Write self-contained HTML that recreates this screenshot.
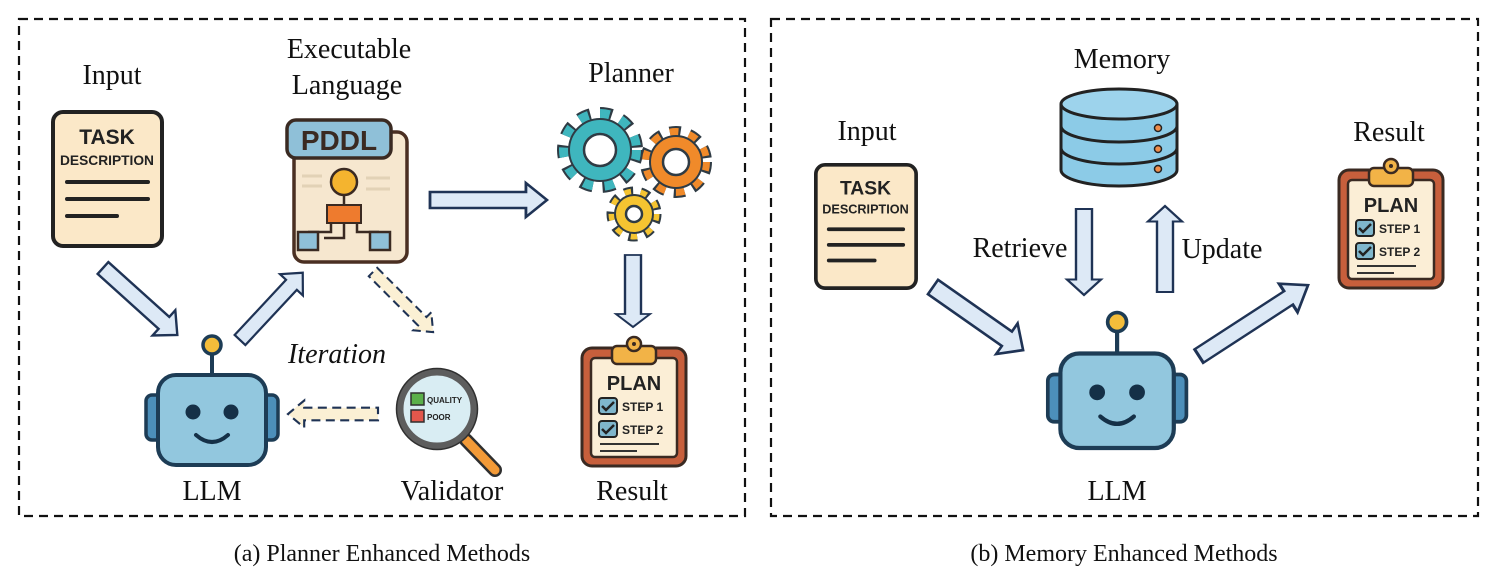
<!DOCTYPE html>
<html><head><meta charset="utf-8"><style>
html,body{margin:0;padding:0;background:#fff;}
svg{display:block;}
text{font-family:"Liberation Serif",serif;fill:#111;}
.s{font-family:"Liberation Sans",sans-serif;font-weight:bold;fill:#222;}
</style></head><body>
<svg width="1494" height="582" viewBox="0 0 1494 582" xmlns="http://www.w3.org/2000/svg">
<defs>
  <g id="doc">
    <rect x="2" y="2" width="109" height="134" rx="10" fill="#fbe8c8" stroke="#222" stroke-width="4"/>
    <text x="56" y="34" text-anchor="middle" class="s" font-size="21">TASK</text>
    <text x="56" y="55" text-anchor="middle" class="s" font-size="14" textLength="94" lengthAdjust="spacingAndGlyphs">DESCRIPTION</text>
    <line x1="16" y1="72" x2="97" y2="72" stroke="#222" stroke-width="4" stroke-linecap="round"/>
    <line x1="16" y1="89" x2="97" y2="89" stroke="#222" stroke-width="4" stroke-linecap="round"/>
    <line x1="16" y1="106" x2="66" y2="106" stroke="#222" stroke-width="4" stroke-linecap="round"/>
  </g>
  <g id="robot">
    <line x1="62" y1="0" x2="62" y2="30" stroke="#1d3c55" stroke-width="4"/>
    <circle cx="62" cy="0" r="9" fill="#f4bd3a" stroke="#1d3c55" stroke-width="3.5"/>
    <rect x="-4" y="50" width="18" height="45" rx="6" fill="#4c8fba" stroke="#1d3c55" stroke-width="3.5"/>
    <rect x="110" y="50" width="18" height="45" rx="6" fill="#4c8fba" stroke="#1d3c55" stroke-width="3.5"/>
    <rect x="8" y="30" width="108" height="90" rx="18" fill="#92c7de" stroke="#1d3c55" stroke-width="4"/>
    <circle cx="43" cy="67" r="7.5" fill="#153047"/>
    <circle cx="81" cy="67" r="7.5" fill="#153047"/>
    <path d="M46 90 Q62 104 78 90" fill="none" stroke="#153047" stroke-width="4" stroke-linecap="round"/>
  </g>
  <g id="clip">
    <rect x="2" y="8" width="104" height="118" rx="10" fill="#c75f3c" stroke="#3a2a22" stroke-width="3"/>
    <rect x="11" y="18" width="86" height="99" rx="4" fill="#fbeed6" stroke="#3a2a22" stroke-width="2.5"/>
    <rect x="32" y="6" width="44" height="18" rx="5" fill="#f2b347" stroke="#3a2a22" stroke-width="2.5"/>
    <circle cx="54" cy="4" r="7" fill="#f2b347" stroke="#3a2a22" stroke-width="2.5"/>
    <circle cx="54" cy="4" r="2" fill="#3a2a22"/>
    <text x="54" y="50" text-anchor="middle" class="s" font-size="20">PLAN</text>
    <rect x="19" y="58" width="18" height="16" rx="3" fill="#7fb6cc" stroke="#222" stroke-width="2"/>
    <path d="M22 66 l4 4 l8 -8" fill="none" stroke="#222" stroke-width="2.5"/>
    <text x="42" y="71" class="s" font-size="12">STEP 1</text>
    <rect x="19" y="81" width="18" height="16" rx="3" fill="#7fb6cc" stroke="#222" stroke-width="2"/>
    <path d="M22 89 l4 4 l8 -8" fill="none" stroke="#222" stroke-width="2.5"/>
    <text x="42" y="94" class="s" font-size="12">STEP 2</text>
    <line x1="20" y1="104" x2="79" y2="104" stroke="#333" stroke-width="2"/>
    <line x1="20" y1="111" x2="57" y2="111" stroke="#333" stroke-width="2"/>
  </g>
  <g id="barr"><polygon points="0,-8 82,-8 82,-17 100,0 82,17 82,8 0,8" fill="#dde9f6" stroke="#1f3355" stroke-width="2.4" stroke-linejoin="miter"/></g>
  <g id="darr"><polygon points="0,-7 82,-7 82,-15 100,0 82,15 82,7 0,7" fill="#fbf0d4" stroke="#1f3355" stroke-width="2.4" stroke-dasharray="10,6"/></g>
</defs>

<rect x="19" y="19" width="726" height="497" fill="none" stroke="#111" stroke-width="2.2" stroke-dasharray="9,6"/>
<rect x="771" y="19" width="707" height="497" fill="none" stroke="#111" stroke-width="2.2" stroke-dasharray="9,6"/>

<!-- LEFT PANEL -->
<text x="112" y="84" text-anchor="middle" font-size="28">Input</text>
<use href="#doc" x="51" y="110"/>
<text x="349" y="58" text-anchor="middle" font-size="28">Executable</text>
<text x="347" y="94" text-anchor="middle" font-size="28">Language</text>
<g transform="translate(284,120)">
  <rect x="10" y="12" width="113" height="130" rx="10" fill="#f6e7cf" stroke="#4a2f22" stroke-width="3.5"/>
  <rect x="3" y="0" width="104" height="38" rx="9" fill="#8fc0d8" stroke="#3a2a22" stroke-width="3.5"/>
  <text x="55" y="30" text-anchor="middle" class="s" font-size="28" style="fill:#3a2a22">PDDL</text>
  <line x1="18" y1="56" x2="38" y2="56" stroke="#e2d2b6" stroke-width="3"/>
  <line x1="18" y1="66" x2="38" y2="66" stroke="#e2d2b6" stroke-width="3"/>
  <line x1="82" y1="58" x2="106" y2="58" stroke="#e2d2b6" stroke-width="3"/>
  <line x1="82" y1="69" x2="106" y2="69" stroke="#e2d2b6" stroke-width="3"/>
  <circle cx="60" cy="62" r="13" fill="#f4b42f" stroke="#3a2a22" stroke-width="2.5"/>
  <line x1="60" y1="75" x2="60" y2="85" stroke="#3a2a22" stroke-width="2.5"/>
  <rect x="43" y="85" width="34" height="18" fill="#ee7b2e" stroke="#3a2a22" stroke-width="2"/>
  <path d="M47 103 V112 H24 M73 103 V112 H95 M60 103 V118 H40" fill="none" stroke="#3a2a22" stroke-width="2.5"/>
  <rect x="14" y="112" width="20" height="18" fill="#8fc0d8" stroke="#3a2a22" stroke-width="2.5"/>
  <rect x="86" y="112" width="20" height="18" fill="#8fc0d8" stroke="#3a2a22" stroke-width="2.5"/>
</g>
<text x="631" y="82" text-anchor="middle" font-size="28">Planner</text>
<g>
  <circle cx="600" cy="150" r="34" fill="none" stroke="#2f3b44" stroke-width="18" stroke-dasharray="11,9"/>
  <circle cx="600" cy="150" r="34" fill="none" stroke="#3fb6be" stroke-width="14" stroke-dasharray="9,11"/>
  <circle cx="600" cy="150" r="31" fill="#3fb6be" stroke="#2f3b44" stroke-width="2"/>
  <circle cx="600" cy="150" r="16" fill="#fff" stroke="#2f3b44" stroke-width="2.5"/>
  <circle cx="676" cy="162" r="28" fill="none" stroke="#2f3b44" stroke-width="16" stroke-dasharray="10,8"/>
  <circle cx="676" cy="162" r="28" fill="none" stroke="#f08a2a" stroke-width="12" stroke-dasharray="8,10"/>
  <circle cx="676" cy="162" r="26" fill="#f08a2a" stroke="#2f3b44" stroke-width="2"/>
  <circle cx="676" cy="162" r="13" fill="#fff" stroke="#2f3b44" stroke-width="2.5"/>
  <circle cx="634" cy="214" r="21" fill="none" stroke="#2f3b44" stroke-width="13" stroke-dasharray="8,7"/>
  <circle cx="634" cy="214" r="21" fill="none" stroke="#f5c431" stroke-width="9" stroke-dasharray="6,9"/>
  <circle cx="634" cy="214" r="19" fill="#f5c431" stroke="#2f3b44" stroke-width="2"/>
  <circle cx="634" cy="214" r="8" fill="#fff" stroke="#2f3b44" stroke-width="2.5"/>
</g>
<use href="#barr" transform="translate(103,268) rotate(42)"/>
<use href="#barr" transform="translate(240,340) rotate(-47) scale(0.92)"/>
<use href="#barr" transform="translate(430,200) scale(1.17,1)"/>
<use href="#barr" transform="translate(633,255) rotate(90) scale(0.72,1)"/>
<use href="#darr" transform="translate(373,272) rotate(45) scale(0.85)"/>
<use href="#darr" transform="translate(378,414) rotate(180) scale(0.9)"/>
<text x="337" y="363" text-anchor="middle" font-size="28" font-style="italic">Iteration</text>
<use href="#robot" x="150" y="345"/>
<text x="212" y="500" text-anchor="middle" font-size="28">LLM</text>
<g>
  <line x1="466" y1="440" x2="495" y2="470" stroke="#2f2f2f" stroke-width="14" stroke-linecap="round"/>
  <line x1="466" y1="440" x2="495" y2="470" stroke="#f39a37" stroke-width="9" stroke-linecap="round"/>
  <circle cx="437" cy="409" r="37" fill="#d9edf3" stroke="#5d5d5d" stroke-width="7"/>
  <circle cx="437" cy="409" r="40.5" fill="none" stroke="#2f2f2f" stroke-width="1.5"/>
  <rect x="411" y="393" width="13" height="12" fill="#5bb04a" stroke="#2f2f2f" stroke-width="1.5"/>
  <text x="427" y="403" class="s" font-size="8">QUALITY</text>
  <rect x="411" y="410" width="13" height="12" fill="#e2574c" stroke="#2f2f2f" stroke-width="1.5"/>
  <text x="427" y="420" class="s" font-size="8">POOR</text>
</g>
<text x="452" y="500" text-anchor="middle" font-size="28">Validator</text>
<use href="#clip" x="580" y="340"/>
<text x="632" y="500" text-anchor="middle" font-size="28">Result</text>

<!-- RIGHT PANEL -->
<text x="1122" y="68" text-anchor="middle" font-size="28">Memory</text>
<g>
  <path d="M1061 148 v22 a58 16 0 0 0 116 0 v-22" fill="#8ccbe7" stroke="#222" stroke-width="3"/>
  <path d="M1061 126 v22 a58 16 0 0 0 116 0 v-22" fill="#8ccbe7" stroke="#222" stroke-width="3"/>
  <path d="M1061 104 v22 a58 16 0 0 0 116 0 v-22" fill="#8ccbe7" stroke="#222" stroke-width="3"/>
  <ellipse cx="1119" cy="104" rx="58" ry="15" fill="#9dd3ec" stroke="#222" stroke-width="3"/>
  <circle cx="1158" cy="128" r="3.5" fill="#ef8c4a" stroke="#222" stroke-width="1.5"/>
  <circle cx="1158" cy="149" r="3.5" fill="#ef8c4a" stroke="#222" stroke-width="1.5"/>
  <circle cx="1158" cy="169" r="3.5" fill="#ef8c4a" stroke="#222" stroke-width="1.5"/>
</g>
<text x="867" y="140" text-anchor="middle" font-size="28">Input</text>
<use href="#doc" transform="translate(814,163) scale(0.92)"/>
<text x="1020" y="257" text-anchor="middle" font-size="28">Retrieve</text>
<text x="1222" y="258" text-anchor="middle" font-size="28">Update</text>
<use href="#barr" transform="translate(1084,209) rotate(90) scale(0.86,1)"/>
<use href="#barr" transform="translate(1165,292) rotate(-90) scale(0.86,1)"/>
<use href="#barr" transform="translate(933,287) rotate(35) scale(1.1)"/>
<use href="#barr" transform="translate(1199,356) rotate(-33) scale(1.3,1)"/>
<g transform="translate(1052,322) scale(1.05)"><use href="#robot"/></g>
<text x="1117" y="500" text-anchor="middle" font-size="28">LLM</text>
<text x="1389" y="141" text-anchor="middle" font-size="28">Result</text>
<use href="#clip" x="1337" y="162"/>

<text x="382" y="561" text-anchor="middle" font-size="24">(a) Planner Enhanced Methods</text>
<text x="1124" y="561" text-anchor="middle" font-size="24">(b) Memory Enhanced Methods</text>
</svg>
</body></html>
